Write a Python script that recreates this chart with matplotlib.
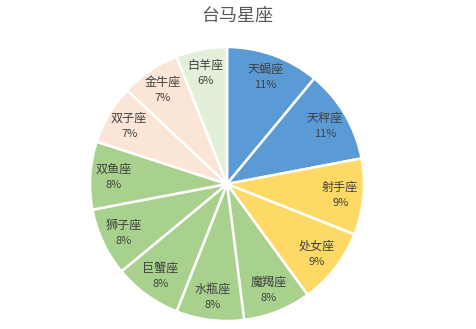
import matplotlib.pyplot as plt
import numpy as np

plt.rcParams['font.family'] = ['Noto Sans CJK SC', 'DejaVu Sans']

# zodiac signs, clockwise from 12 o'clock
signs = ["天蝎座", "天秤座", "射手座", "处女座", "魔羯座", "水瓶座",
         "巨蟹座", "狮子座", "双鱼座", "双子座", "金牛座", "白羊座"]
shares = [11, 11, 9, 9, 8, 8, 8, 8, 8, 7, 7, 6]
colors = ["#5B9BD5", "#5B9BD5", "#FFD966", "#FFD966", "#A9D18E", "#A9D18E",
          "#A9D18E", "#A9D18E", "#A9D18E", "#FBE5D6", "#FBE5D6", "#E2F0D9"]

fig = plt.figure(figsize=(4.76, 3.29), dpi=100)
cx, cy, r = 227, 329 - 184, 137
ax = fig.add_axes([(cx - r) / 476, (cy - r) / 329, 2 * r / 476, 2 * r / 329])

wedges, _ = ax.pie(shares, colors=colors, startangle=90, counterclock=False,
                   radius=1, wedgeprops=dict(edgecolor="white", linewidth=1.8))

# labels inside the slices
for w, name, s in zip(wedges, signs, shares):
    ang = np.deg2rad((w.theta1 + w.theta2) / 2)
    x, y = 0.83 * np.cos(ang), 0.83 * np.sin(ang)
    ax.text(x, y + 0.055, name, ha="center", va="center", fontsize=8.7, color="#404040")
    ax.text(x, y - 0.06, f"{s}%", ha="center", va="center", fontsize=8, color="#404040")

ax.set_xlim(-1, 1)
ax.set_ylim(-1, 1)
ax.set_aspect("equal")
ax.axis("off")

fig.text(237 / 476, 1 - 16 / 329, "台马星座", ha="center", va="center",
         fontsize=13, color="#595959")

fig.savefig("out.png", dpi=100)
